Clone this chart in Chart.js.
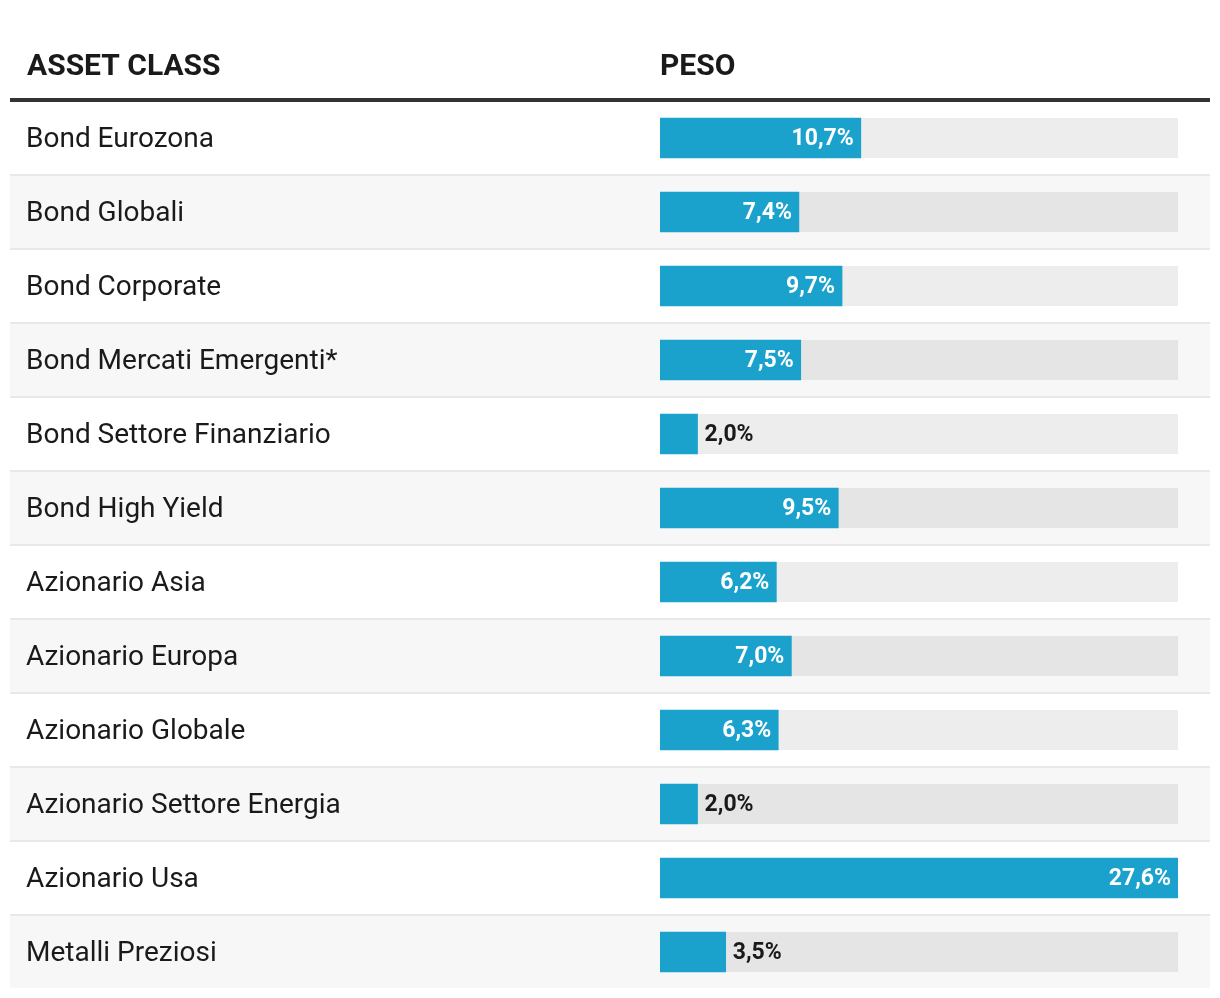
<!DOCTYPE html>
<html>
<head>
<meta charset="utf-8">
<script src="https://cdn.jsdelivr.net/npm/chart.js@4"></script>
<style>
html,body{margin:0;padding:0;background:#fff;}
#wrap{position:relative;width:1220px;height:998px;}
</style>
</head>
<body>
<div id="wrap"><canvas id="c" width="1220" height="998"></canvas></div>
<script>
const categories = [
  "Bond Eurozona",
  "Bond Globali",
  "Bond Corporate",
  "Bond Mercati Emergenti*",
  "Bond Settore Finanziario",
  "Bond High Yield",
  "Azionario Asia",
  "Azionario Europa",
  "Azionario Globale",
  "Azionario Settore Energia",
  "Azionario Usa",
  "Metalli Preziosi"
];
const weights = [10.7, 7.4, 9.7, 7.5, 2.0, 9.5, 6.2, 7.0, 6.3, 2.0, 27.6, 3.5];
const headerLabels = ["ASSET CLASS", "PESO"];
const axisMax = 27.6;

const FONT = "Roboto, 'Liberation Sans', sans-serif";
const BAR_COLOR = "#1aa2cd";

const fmt = v => v.toFixed(1).replace(".", ",") + "%";

const tablePlugin = {
  id: "tablePlugin",
  beforeDraw(chart) {
    const ctx = chart.ctx;
    const y = chart.scales.y;
    const x = chart.scales.x;
    ctx.save();
    ctx.fillStyle = "#ffffff";
    ctx.fillRect(0, 0, chart.width, chart.height);
    categories.forEach((c, i) => {
      const cy = y.getPixelForValue(i);
      const top = cy - 36, bottom = cy + 36;
      ctx.fillStyle = (i % 2 === 1) ? "#f7f7f7" : "#ffffff";
      ctx.fillRect(10, top, 1200, bottom - top);
      if (i < categories.length - 1) {
        ctx.fillStyle = "#e8e8e8";
        ctx.fillRect(10, bottom, 1200, 2);
      }
    });
    ctx.fillStyle = "#333333";
    ctx.fillRect(10, 98, 1200, 4);
    ctx.fillStyle = "#1a1a1a";
    ctx.font = "bold 30px " + FONT;
    ctx.textBaseline = "alphabetic";
    ctx.textAlign = "left";
    ctx.fillText(headerLabels[0], 27, 75);
    ctx.fillText(headerLabels[1], x.left, 75);
    ctx.restore();
  },
  beforeDatasetsDraw(chart) {
    const ctx = chart.ctx;
    const x = chart.scales.x;
    const meta = chart.getDatasetMeta(0);
    ctx.save();
    const x0 = x.getPixelForValue(0), x1 = x.getPixelForValue(axisMax);
    meta.data.forEach(bar => {
      const h = bar.height;
      ctx.fillStyle = "rgba(0,0,0,0.07)";
      ctx.fillRect(x0, bar.y - h / 2, x1 - x0, h);
    });
    ctx.restore();
  },
  afterDatasetsDraw(chart) {
    const ctx = chart.ctx;
    const meta = chart.getDatasetMeta(0);
    ctx.save();
    ctx.font = "bold 23px " + FONT;
    ctx.textBaseline = "middle";
    meta.data.forEach((bar, i) => {
      const txt = fmt(weights[i]);
      const tw = ctx.measureText(txt).width;
      const w = bar.x - bar.base;
      if (w >= tw + 20) {
        ctx.fillStyle = "#ffffff";
        ctx.textAlign = "right";
        ctx.fillText(txt, bar.x - 7, bar.y + 1);
      } else {
        ctx.fillStyle = "#1a1a1a";
        ctx.textAlign = "left";
        ctx.fillText(txt, bar.x + 7, bar.y + 1);
      }
    });
    ctx.restore();
    // nudge the category tick labels (drawn in a later layer) down slightly
    ctx.save();
    ctx.translate(0, 2);
  },
  afterDraw(chart) {
    chart.ctx.restore();
  }
};

new Chart(document.getElementById("c"), {
  type: "bar",
  data: {
    labels: categories,
    datasets: [{
      data: weights,
      backgroundColor: BAR_COLOR,
      borderWidth: 0,
      barThickness: 40
    }]
  },
  options: {
    indexAxis: "y",
    responsive: false,
    animation: false,
    devicePixelRatio: 1,
    layout: { padding: { left: 26, right: 42, top: 101, bottom: 9 } },
    plugins: { legend: { display: false }, tooltip: { enabled: false }, title: { display: false } },
    scales: {
      x: { display: false, min: 0, max: axisMax },
      y: {
        grid: { display: false },
        border: { display: false },
        ticks: {
          z: 1,
          crossAlign: "far",
          padding: 0,
          color: "#1a1a1a",
          font: { family: FONT, size: 28 }
        },
        afterFit(scale) {
          scale.width = 634;
          scale.paddingTop = 0;
          scale.paddingBottom = 0;
        }
      }
    }
  },
  plugins: [tablePlugin]
});
</script>
</body>
</html>
